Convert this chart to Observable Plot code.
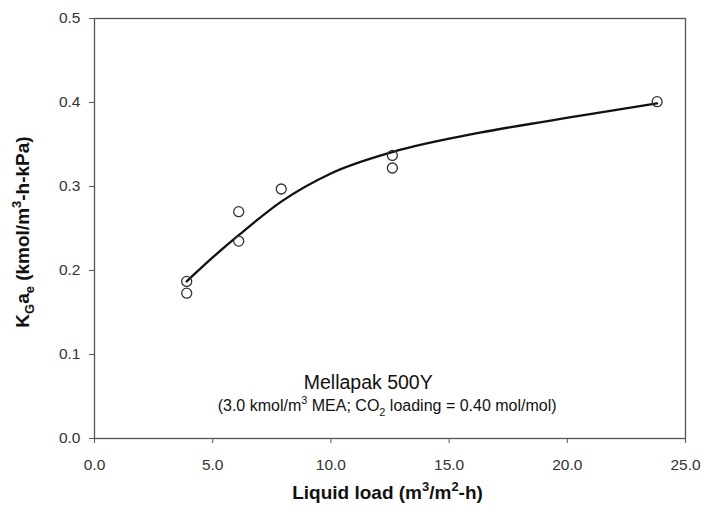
<!DOCTYPE html>
<html>
<head>
<meta charset="utf-8">
<script src="https://cdn.jsdelivr.net/npm/d3@7"></script>
<script src="https://cdn.jsdelivr.net/npm/@observablehq/plot@0.6"></script>
<style>
  html, body { margin: 0; padding: 0; background: #fff; }
  #chart { width: 725px; height: 515px; }
</style>
</head>
<body>
<div id="chart"></div>
<script>
// Measured mass-transfer data, Mellapak 500Y
const liquidLoad = [3.9, 3.9, 6.1, 6.1, 7.9, 12.6, 12.6, 23.8];
const kgae       = [0.187, 0.173, 0.270, 0.235, 0.297, 0.337, 0.322, 0.401];

// Fitted correlation curve
const fitLoad = [3.9, 5.0, 6.1, 7.9, 10.0, 12.6, 16.3, 20.5, 23.8];
const fitKgae = [0.187, 0.2155, 0.242, 0.282, 0.3155, 0.341, 0.364, 0.384, 0.399];

const xTicks = [0, 5, 10, 15, 20, 25];
const yTicks = [0, 0.1, 0.2, 0.3, 0.4, 0.5];

const points = liquidLoad.map((x, i) => ({x, y: kgae[i]}));
const fit = fitLoad.map((x, i) => ({x, y: fitKgae[i]}));

const font = "'Liberation Sans', Arial, Helvetica, sans-serif";

const plot = Plot.plot({
  width: 725,
  height: 515,
  marginLeft: 94,
  marginRight: 40,
  marginTop: 18,
  marginBottom: 77,
  x: {domain: [0, 25]},
  y: {domain: [0, 0.5]},
  style: {fontFamily: font, fontSize: "15.5px", color: "#333", background: "#fff"},
  marks: [
    Plot.frame({stroke: "#555", strokeWidth: 1.3}),
    Plot.axisX({ticks: xTicks, tickFormat: d3.format(".1f"), tickSize: 5, tickPadding: 15,
                label: null, stroke: "#555", fontSize: 15.5}),
    Plot.axisY({ticks: yTicks, tickFormat: d3.format(".1f"), tickSize: 5, tickPadding: 9,
                label: null, stroke: "#555", fontSize: 15.5}),
    Plot.line(fit, {x: "x", y: "y", curve: "monotone-x", stroke: "#111", strokeWidth: 2.3}),
    Plot.dot(points, {x: "x", y: "y", r: 5, stroke: "#333", strokeWidth: 1.3, fill: "none"})
  ]
});

document.getElementById("chart").appendChild(plot);

// Text with sub/superscripts, built from tspans
function richText(svg, x, y, parts, {size, weight = "normal", rotate = 0, fill = "#111"}) {
  const t = svg.append("text")
    .attr("transform", `translate(${x},${y}) rotate(${rotate})`)
    .attr("text-anchor", "middle")
    .attr("font-family", font)
    .attr("font-size", size)
    .attr("font-weight", weight)
    .attr("fill", fill);
  let shift = 0;
  for (const [s, kind] of parts) {
    const target = kind === "sub" ? 0.28 * size : kind === "sup" ? -0.42 * size : 0;
    t.append("tspan")
      .attr("dy", target - shift)
      .attr("font-size", kind ? size * 0.68 : size)
      .text(s);
    shift = target;
  }
  return t;
}

const svg = d3.select(plot);
const sx = plot.scale("x"), sy = plot.scale("y");
const cx = (sx.range[0] + sx.range[1]) / 2;
const cy = (sy.range[0] + sy.range[1]) / 2;

// Axis titles
richText(svg, cx - 2, 499, [
  ["Liquid load (m"], ["3", "sup"], ["/m"], ["2", "sup"], ["-h)"]
], {size: 19, weight: "bold"});

richText(svg, 29, cy + 4, [
  ["K"], ["G", "sub"], ["a"], ["e", "sub"], [" (kmol/m"], ["3", "sup"], ["-h-kPa)"]
], {size: 19, weight: "bold", rotate: -90});

// Annotation
richText(svg, sx.apply(11.6), sy.apply(0.058), [["Mellapak 500Y"]], {size: 19.5});
richText(svg, sx.apply(12.4), sy.apply(0.032), [
  ["(3.0 kmol/m"], ["3", "sup"], [" MEA; CO"], ["2", "sub"], [" loading = 0.40 mol/mol)"]
], {size: 16});
</script>
</body>
</html>
